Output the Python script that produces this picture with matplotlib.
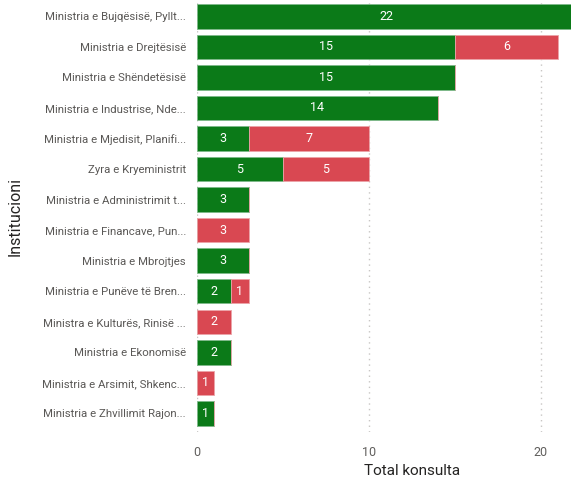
import matplotlib.pyplot as plt
import numpy as np

institutions = [
    'Ministria e Bujqësisë, Pyllt...',
    'Ministria e Drejtësisë',
    'Ministria e Shëndetësisë',
    'Ministria e Industrise, Nde...',
    'Ministria e Mjedisit, Planifi...',
    'Zyra e Kryeministrit',
    'Ministria e Administrimit t...',
    'Ministria e Financave, Pun...',
    'Ministria e Mbrojtjes',
    'Ministria e Punëve të Bren...',
    'Ministra e Kulturës, Rinisë ...',
    'Ministria e Ekonomisë',
    'Ministria e Arsimit, Shkenc...',
    'Ministria e Zhvillimit Rajon...',
]
green_vals = [22, 15, 15, 14, 3, 5, 3, 0, 3, 2, 0, 2, 0, 1]
red_vals = [0, 6, 0, 0, 7, 5, 0, 3, 0, 1, 2, 0, 1, 0]

plt.rcParams['font.family'] = ['Roboto', 'DejaVu Sans']

fig = plt.figure(figsize=(5.71, 4.83), dpi=100)
# plot area runs past the right edge of the image, like the original
ax = fig.add_axes([0.345, 0.106, 0.753, 0.89])

y = np.arange(len(institutions))
green = '#0B7A18'
red = '#D94852'
ax.barh(y, green_vals, height=0.8, color=green, edgecolor='#7fb98a', linewidth=0.6)
ax.barh(y, red_vals, left=green_vals, height=0.8, color=red, edgecolor='#eca3a8', linewidth=0.6)

for i in range(len(y)):
    if green_vals[i] > 0:
        ax.text(green_vals[i] / 2, y[i], str(green_vals[i]), color='white',
                ha='center', va='center', fontsize=9)
    if red_vals[i] > 0:
        ax.text(green_vals[i] + red_vals[i] / 2, y[i], str(red_vals[i]), color='white',
                ha='center', va='center', fontsize=9)

ax.set_xlim(0, 25)
ax.set_ylim(13.6, -0.47)
ax.set_yticks(y)
ax.set_yticklabels(institutions, fontsize=8.2, color='#5a5856')
ax.set_xticks([0, 10, 20])
ax.tick_params(axis='x', colors='#605E5C', labelsize=9, length=0, pad=10)
ax.tick_params(axis='y', length=0, pad=8)
for s in ax.spines.values():
    s.set_visible(False)
ax.grid(axis='x', color='#C8C6C4', linestyle=(0, (1, 3)), linewidth=1)
ax.set_axisbelow(True)

ax.set_xlabel('Total konsulta', fontsize=11, color='#252423', labelpad=4)
ax.set_ylabel('Institucioni', fontsize=11.5, color='#252423', labelpad=14)

fig.savefig('out.png', dpi=100)
